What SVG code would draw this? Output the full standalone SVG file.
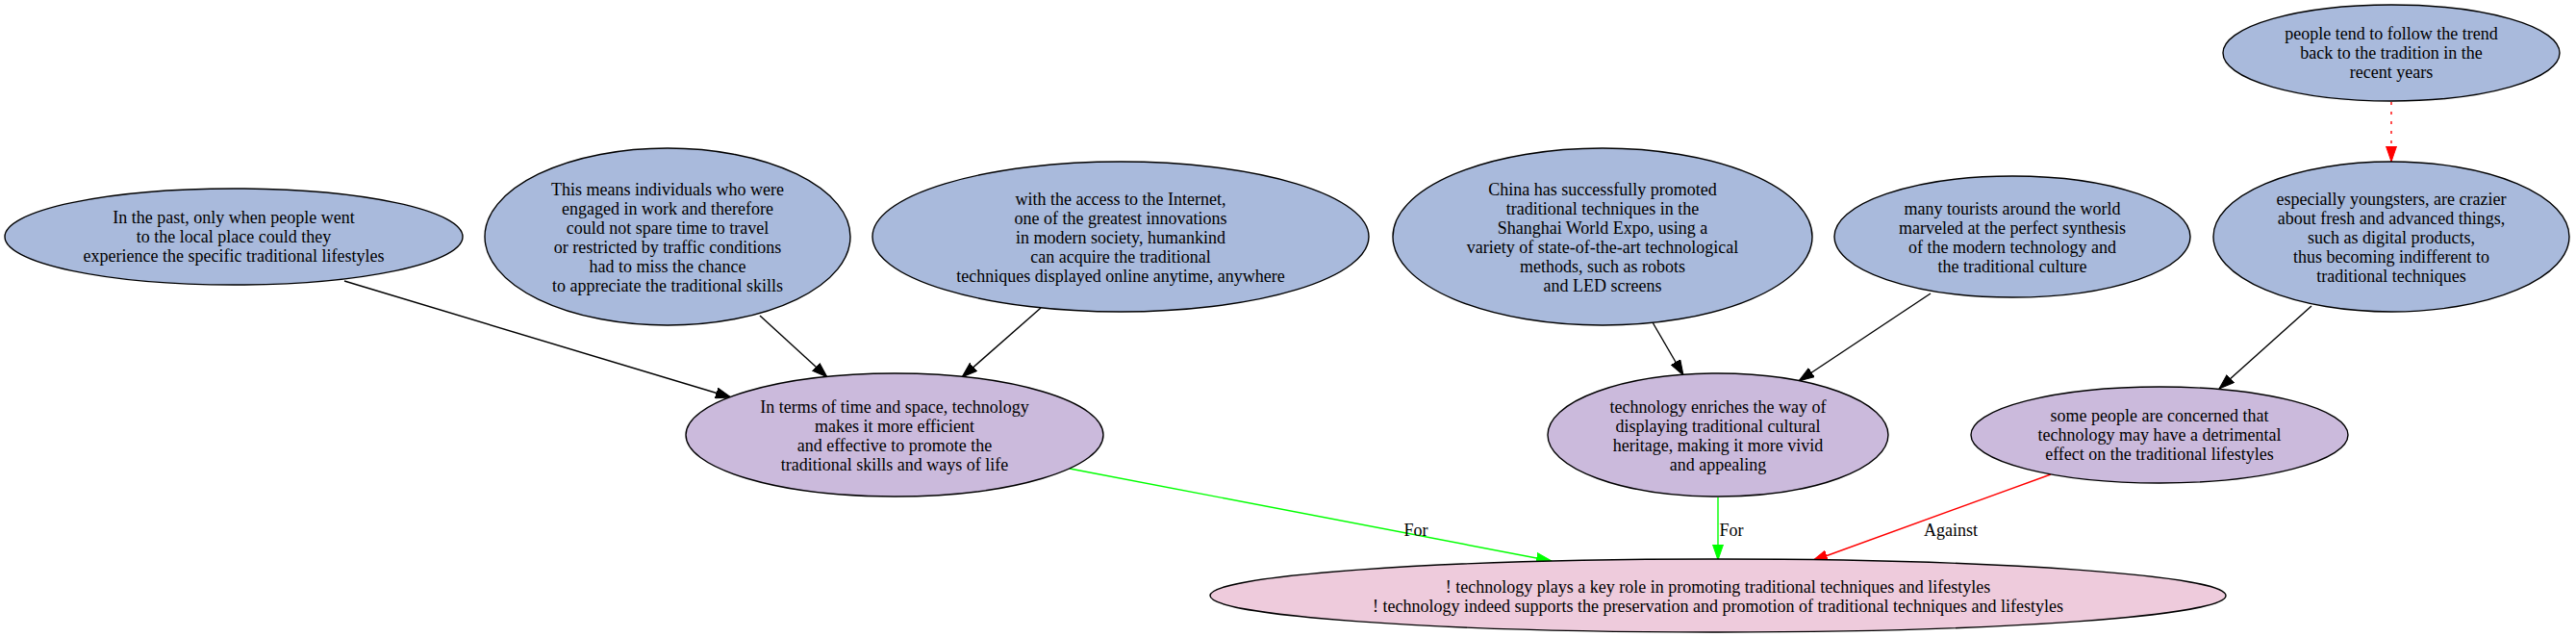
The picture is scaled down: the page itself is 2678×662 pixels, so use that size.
<svg xmlns="http://www.w3.org/2000/svg" width="2678" height="662" viewBox="0 0 2678 662">
<style>
.n ellipse{stroke:#000;stroke-width:1.4}
.b ellipse{fill:#a9badc}
.p ellipse{fill:#cbbadc}
.k ellipse{fill:#eecbdc}
text{font-family:"Liberation Serif","Times New Roman",serif;font-size:18px;fill:#000;text-anchor:middle}
.e line{stroke-width:1.4;fill:none}
.blk{stroke:#000}
.grn{stroke:#00ff00}
.red{stroke:#ff0000}
</style>
<defs>
<marker id="ab" markerUnits="userSpaceOnUse" markerWidth="18" markerHeight="12" refX="16" refY="6" orient="auto"><path d="M0,0.5 L16,6 L0,11.5 z" fill="#000" stroke="#000"/></marker>
<marker id="ag" markerUnits="userSpaceOnUse" markerWidth="18" markerHeight="12" refX="16" refY="6" orient="auto"><path d="M0,0.5 L16,6 L0,11.5 z" fill="#00ff00" stroke="#00ff00"/></marker>
<marker id="ar" markerUnits="userSpaceOnUse" markerWidth="18" markerHeight="12" refX="16" refY="6" orient="auto"><path d="M0,0.5 L16,6 L0,11.5 z" fill="#ff0000" stroke="#ff0000"/></marker>
</defs>
<rect width="2678" height="662" fill="#fff"/>
<g id="edges" class="e">
<line class="blk" x1="358" y1="292" x2="760" y2="413" marker-end="url(#ab)"/>
<line class="blk" x1="790" y1="328" x2="860" y2="392" marker-end="url(#ab)"/>
<line class="blk" x1="1082" y1="320" x2="1000" y2="392" marker-end="url(#ab)"/>
<line class="blk" x1="1718" y1="335" x2="1750" y2="390" marker-end="url(#ab)"/>
<line class="blk" x1="2007" y1="305" x2="1870" y2="396" marker-end="url(#ab)"/>
<line class="blk" x1="2403" y1="318" x2="2307" y2="404" marker-end="url(#ab)"/>
<line class="red" x1="2486" y1="106" x2="2486" y2="168" stroke-dasharray="3,7" marker-end="url(#ar)"/>
<line class="grn" x1="1112" y1="487" x2="1613" y2="583" marker-end="url(#ag)"/>
<line class="grn" x1="1786" y1="517" x2="1786" y2="582" marker-end="url(#ag)"/>
<line class="red" x1="2132" y1="493" x2="1884" y2="583" marker-end="url(#ar)"/>
<text x="1472" y="557">For</text>
<text x="1800" y="557">For</text>
<text x="2028" y="557">Against</text>
</g>
<g id="nA" class="n b"><ellipse cx="243" cy="246" rx="238" ry="50"/>
<text x="243" y="232">In the past, only when people went</text>
<text x="243" y="252">to the local place could they</text>
<text x="243" y="272">experience the specific traditional lifestyles</text></g>
<g id="nB" class="n b"><ellipse cx="694" cy="246" rx="190" ry="92"/>
<text x="694" y="203">This means individuals who were</text>
<text x="694" y="223">engaged in work and therefore</text>
<text x="694" y="243">could not spare time to travel</text>
<text x="694" y="263">or restricted by traffic conditions</text>
<text x="694" y="283">had to miss the chance</text>
<text x="694" y="303">to appreciate the traditional skills</text></g>
<g id="nC" class="n b"><ellipse cx="1165" cy="246" rx="258" ry="78"/>
<text x="1165" y="213">with the access to the Internet,</text>
<text x="1165" y="233">one of the greatest innovations</text>
<text x="1165" y="253">in modern society, humankind</text>
<text x="1165" y="273">can acquire the traditional</text>
<text x="1165" y="293">techniques displayed online anytime, anywhere</text></g>
<g id="nD" class="n b"><ellipse cx="1666" cy="246" rx="218" ry="92"/>
<text x="1666" y="203">China has successfully promoted</text>
<text x="1666" y="223">traditional techniques in the</text>
<text x="1666" y="243">Shanghai World Expo, using a</text>
<text x="1666" y="263">variety of state-of-the-art technological</text>
<text x="1666" y="283">methods, such as robots</text>
<text x="1666" y="303">and LED screens</text></g>
<g id="nE" class="n b"><ellipse cx="2092" cy="246" rx="185" ry="63"/>
<text x="2092" y="223">many tourists around the world</text>
<text x="2092" y="243">marveled at the perfect synthesis</text>
<text x="2092" y="263">of the modern technology and</text>
<text x="2092" y="283">the traditional culture</text></g>
<g id="nF" class="n b"><ellipse cx="2486" cy="55" rx="175" ry="50"/>
<text x="2486" y="41">people tend to follow the trend</text>
<text x="2486" y="61">back to the tradition in the</text>
<text x="2486" y="81">recent years</text></g>
<g id="nG" class="n b"><ellipse cx="2486" cy="246" rx="185" ry="78"/>
<text x="2486" y="213">especially youngsters, are crazier</text>
<text x="2486" y="233">about fresh and advanced things,</text>
<text x="2486" y="253">such as digital products,</text>
<text x="2486" y="273">thus becoming indifferent to</text>
<text x="2486" y="293">traditional techniques</text></g>
<g id="nH" class="n p"><ellipse cx="930" cy="452" rx="217" ry="64"/>
<text x="930" y="429">In terms of time and space, technology</text>
<text x="930" y="449">makes it more efficient</text>
<text x="930" y="469">and effective to promote the</text>
<text x="930" y="489">traditional skills and ways of life</text></g>
<g id="nI" class="n p"><ellipse cx="1786" cy="452" rx="177" ry="64"/>
<text x="1786" y="429">technology enriches the way of</text>
<text x="1786" y="449">displaying traditional cultural</text>
<text x="1786" y="469">heritage, making it more vivid</text>
<text x="1786" y="489">and appealing</text></g>
<g id="nJ" class="n p"><ellipse cx="2245" cy="452" rx="196" ry="50"/>
<text x="2245" y="438">some people are concerned that</text>
<text x="2245" y="458">technology may have a detrimental</text>
<text x="2245" y="478">effect on the traditional lifestyles</text></g>
<g id="nK" class="n k"><ellipse cx="1786" cy="619" rx="528" ry="38"/>
<text x="1786" y="616">! technology plays a key role in promoting traditional techniques and lifestyles</text>
<text x="1786" y="636">! technology indeed supports the preservation and promotion of traditional techniques and lifestyles</text></g>
</svg>
